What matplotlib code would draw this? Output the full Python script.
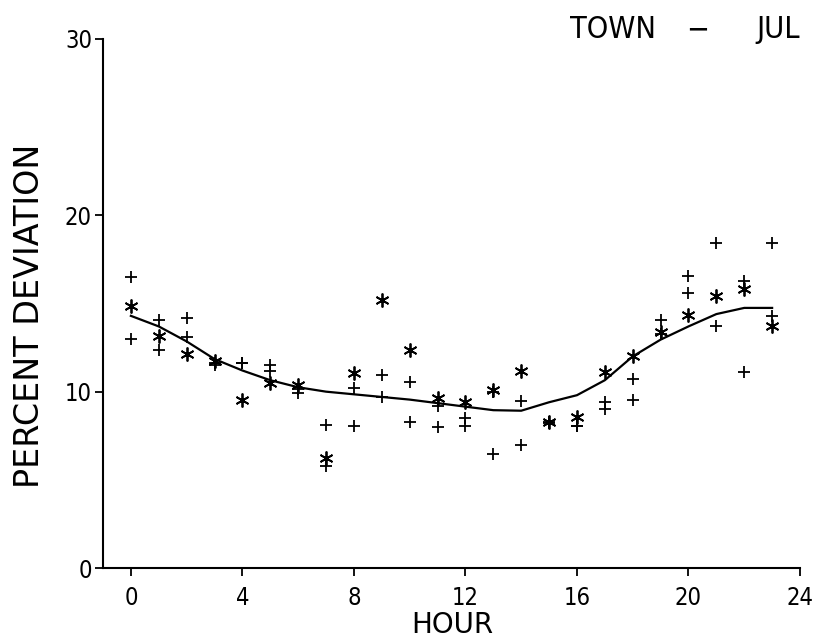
import matplotlib
matplotlib.use("Agg")
import matplotlib.pyplot as plt

plt.rcParams['font.family'] = ['DejaVu Sans']
plt.rcParams['font.stretch'] = 'condensed'

hours = list(range(24))
star_vals = [14.85, 13.15, 12.15, 11.75, 9.5, 10.5, 10.4, 6.25, 11.05, 15.2, 12.35, 9.65,
             9.4, 10.1, 11.15, 8.3, 8.55, 11.1, 12.05, 13.4, 14.35, 15.4, 15.85, 13.75]
plus_a = [16.5, 14.05, 14.2, 11.5, 11.65, 11.5, 10.15, 8.1, 10.2, 10.95, 10.55, 9.2,
          8.5, 10.0, 9.45, 8.3, 8.05, 9.4, 10.7, 14.05, 16.55, 18.45, 16.3, 18.45]
plus_b = [13.0, 12.35, 13.1, 11.6, 11.65, 11.2, 9.9, 5.8, 8.05, 9.7, 8.3, 8.0,
          8.05, 6.45, 7.0, 8.25, 8.05, 9.0, 9.5, 13.25, 15.6, 13.75, 11.1, 14.3]
curve_vals = [14.3, 13.7, 12.85, 11.85, 11.2, 10.65, 10.25, 10.0, 9.85, 9.7, 9.55, 9.35,
              9.15, 8.95, 8.92, 9.4, 9.8, 10.65, 12.0, 12.95, 13.7, 14.4, 14.75, 14.75]

x_ticks = [0, 4, 8, 12, 16, 20, 24]
y_ticks = [0, 10, 20, 30]

fig = plt.figure(figsize=(8.18, 6.44), dpi=100)
ax = fig.add_axes([103/818, (644-568)/644, (800-103)/818, (568-39)/644])

ax.plot(hours, curve_vals, color='black', lw=1.6)
ax.plot(hours, plus_a, ls='none', marker='+', ms=9, mew=1.3, color='black')
ax.plot(hours, plus_b, ls='none', marker='+', ms=9, mew=1.3, color='black')
ax.plot(hours, star_vals, ls='none', marker=(6, 2, 0), ms=10, mew=1.3, color='black')

ax.set_xlim(-1, 24)
ax.set_ylim(0, 30)
ax.set_xticks(x_ticks)
ax.set_yticks(y_ticks)
for s in ['top', 'right']:
    ax.spines[s].set_visible(False)
for s in ['left', 'bottom']:
    ax.spines[s].set_linewidth(1.5)
ax.tick_params(axis='both', direction='out', length=6, width=1.3, labelsize=17)
ax.tick_params(axis='x', pad=7)
ax.tick_params(axis='y', pad=2)

fig.text(452/818, 1 - 625/644, 'HOUR', ha='center', va='center', fontsize=20,
         fontstretch='normal')
fig.text(30/818, 1 - 316/644, 'PERCENT DEVIATION', ha='center', va='center',
         rotation=90, fontsize=24, fontstretch='normal')
fig.text(570/818, 1 - 38/644, 'TOWN', ha='left', va='baseline', fontsize=22)
fig.text(698/818, 1 - 38/644, '\u2212', ha='center', va='baseline', fontsize=22)
fig.text(800/818, 1 - 38/644, 'JUL', ha='right', va='baseline', fontsize=22)

fig.savefig('out.png', dpi=100)
